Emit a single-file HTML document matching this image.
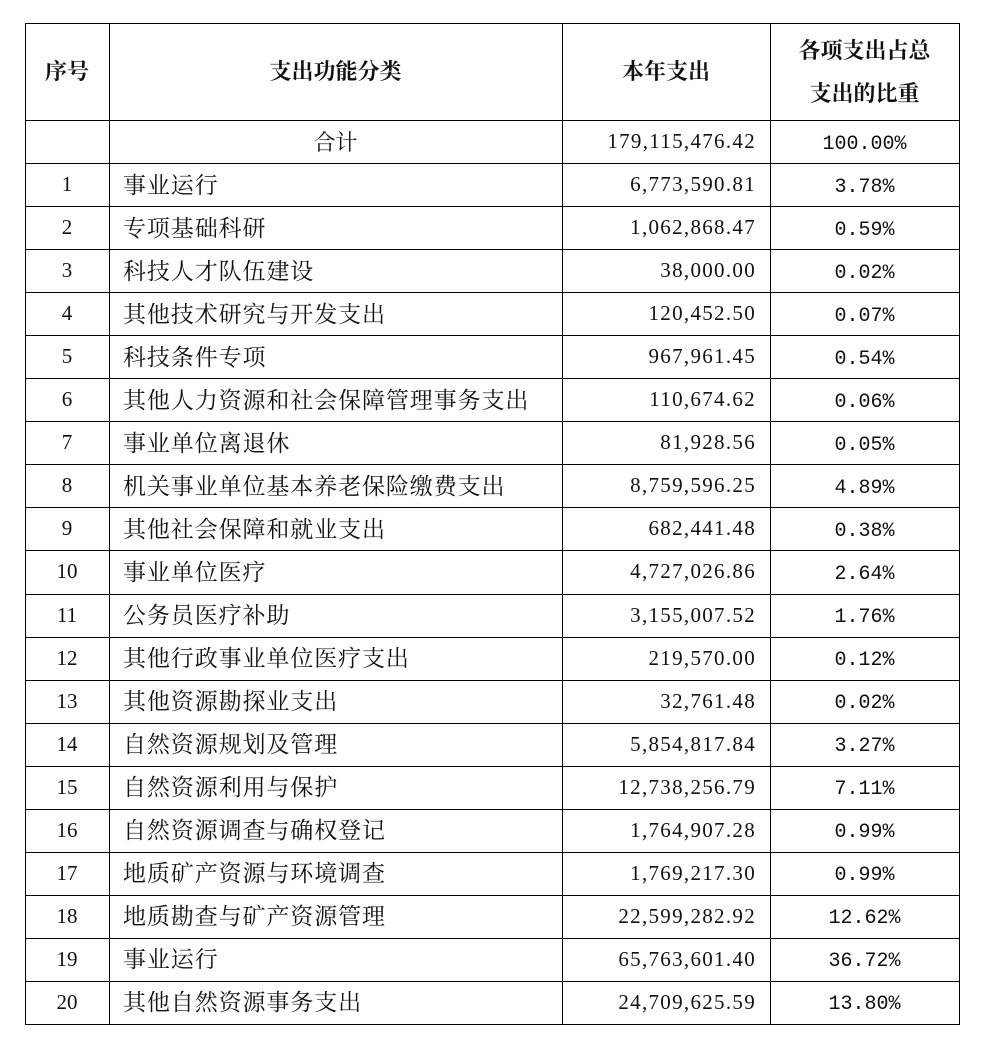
<!DOCTYPE html>
<html><head><meta charset="utf-8"><style>
body{margin:0;background:#fff;width:986px;height:1046px;position:relative;overflow:hidden}
.c{position:absolute;box-sizing:border-box;display:flex;align-items:center;font-family:"Liberation Serif","Noto Serif CJK SC",serif;font-size:23px;color:#111;white-space:nowrap}
.h{font-weight:bold;font-family:"Liberation Serif","Noto Serif CJK SC",serif;font-size:22px;justify-content:center;text-align:center;line-height:43px}
.ctr{justify-content:center;font-size:21px}
.r{justify-content:flex-end;padding-right:14px;font-size:21px;letter-spacing:1.3px}
.l{padding-left:14px;letter-spacing:0.9px;padding-bottom:3px}
.p{justify-content:center;font-family:"Liberation Mono",monospace;font-size:20px;padding-top:5px}
.ln{position:absolute;background:#000}
</style></head><body>
<div id="t"></div>
<script>
const rows=[
["","合计","179,115,476.42","100.00%"],
["1","事业运行","6,773,590.81","3.78%"],
["2","专项基础科研","1,062,868.47","0.59%"],
["3","科技人才队伍建设","38,000.00","0.02%"],
["4","其他技术研究与开发支出","120,452.50","0.07%"],
["5","科技条件专项","967,961.45","0.54%"],
["6","其他人力资源和社会保障管理事务支出","110,674.62","0.06%"],
["7","事业单位离退休","81,928.56","0.05%"],
["8","机关事业单位基本养老保险缴费支出","8,759,596.25","4.89%"],
["9","其他社会保障和就业支出","682,441.48","0.38%"],
["10","事业单位医疗","4,727,026.86","2.64%"],
["11","公务员医疗补助","3,155,007.52","1.76%"],
["12","其他行政事业单位医疗支出","219,570.00","0.12%"],
["13","其他资源勘探业支出","32,761.48","0.02%"],
["14","自然资源规划及管理","5,854,817.84","3.27%"],
["15","自然资源利用与保护","12,738,256.79","7.11%"],
["16","自然资源调查与确权登记","1,764,907.28","0.99%"],
["17","地质矿产资源与环境调查","1,769,217.30","0.99%"],
["18","地质勘查与矿产资源管理","22,599,282.92","12.62%"],
["19","事业运行","65,763,601.40","36.72%"],
["20","其他自然资源事务支出","24,709,625.59","13.80%"]];
const X=[25,109,562,770,959];
let h='';
const hd=["序号","支出功能分类","本年支出","各项支出占总<br>支出的比重"];
for(let i=0;i<4;i++)h+=`<div class="c h" style="left:${X[i]}px;top:23px;width:${X[i+1]-X[i]}px;height:97px">${hd[i]}</div>`;
const rh=(1024-120)/21;
rows.forEach((r,k)=>{const y=120+k*rh;
const cls=["ctr",k==0?"ctr":"l","r","p"];
for(let i=0;i<4;i++)h+=`<div class="c ${cls[i]}" style="left:${X[i]}px;top:${y}px;width:${X[i+1]-X[i]}px;height:${rh}px${k==0&&i==1?';font-size:22px':''}">${r[i]}</div>`;
h+=`<div class="ln" style="left:25px;top:${Math.round(y)}px;width:935px;height:1px"></div>`;});
h+=`<div class="ln" style="left:25px;top:23px;width:935px;height:1px"></div>`;
h+=`<div class="ln" style="left:25px;top:1024px;width:935px;height:1px"></div>`;
X.forEach(x=>h+=`<div class="ln" style="left:${x}px;top:23px;width:1px;height:1002px"></div>`);
document.getElementById('t').innerHTML=h;
</script>
</body></html>
